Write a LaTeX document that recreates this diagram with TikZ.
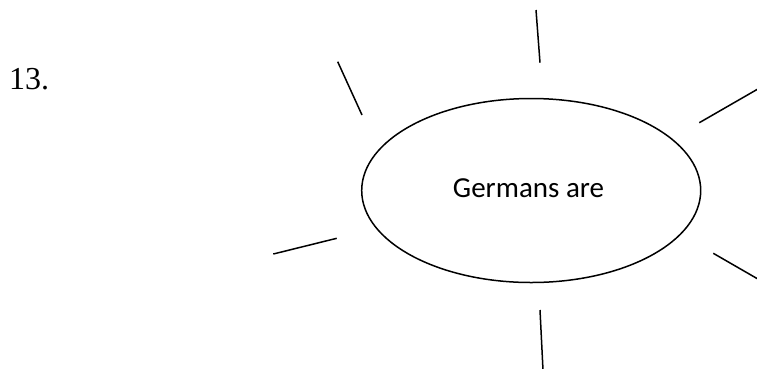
\documentclass[tikz,border=0pt]{standalone}
\usepackage{fontspec}
\setmainfont{Liberation Serif}
\newfontfamily\calfont{Carlito}
\usetikzlibrary{shapes.geometric}
\begin{document}
\begin{tikzpicture}[x=1pt,y=-1pt,
  ray/.style={draw=black,line width=1.5pt},
  hubstyle/.style={ellipse,draw=black,line width=1.5pt,inner sep=0pt,
    minimum width=339pt,minimum height=184pt,
    font=\calfont\fontsize{29}{34}\selectfont},
  numstyle/.style={anchor=base west,inner sep=0pt,font=\fontsize{32}{38}\selectfont}]
\useasboundingbox (0,0) rectangle (757,368);
\clip (0,0) rectangle (757,368);
\node[hubstyle] (hub) at (531.2,190.5) {};
\node[inner sep=0pt,anchor=base,font=\calfont\fontsize{29}{34}\selectfont] (label) at (528.5,197.3) {Germans are};
\node[numstyle] (num) at (9,89.3) {13.};
\coordinate (a1) at (536,10);   \coordinate (b1) at (540,62.7);
\coordinate (a2) at (337.7,61.7); \coordinate (b2) at (362,115);
\coordinate (a3) at (699.3,122.7); \coordinate (b3) at (770,82);
\coordinate (a4) at (273.3,254); \coordinate (b4) at (336.7,238.3);
\coordinate (a5) at (713.3,253.3); \coordinate (b5) at (770,286);
\coordinate (a6) at (540,310);  \coordinate (b6) at (543.5,380);
\foreach \i in {1,...,6} {\draw[ray] (a\i) -- (b\i);}
\end{tikzpicture}
\end{document}
